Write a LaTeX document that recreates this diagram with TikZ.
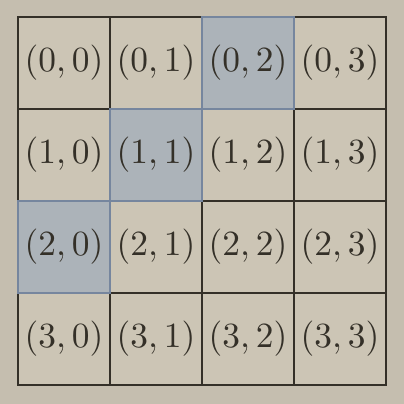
\documentclass[tikz,border=0pt]{standalone}
\definecolor{SandPaper}{RGB}{197,190,175}
\definecolor{CellPaper}{RGB}{204,197,181}
\definecolor{SlateFill}{RGB}{172,179,185}
\definecolor{SlateEdge}{RGB}{118,134,158}
\definecolor{InkDark}{RGB}{52,48,40}
\colorlet{ColourBg}{SandPaper}
\colorlet{ColourCell}{CellPaper}
\colorlet{ColourHl}{SlateFill}
\colorlet{ColourDark}{InkDark}

\begin{document}
\begin{tikzpicture}[
    cell/.style={draw=ColourDark,line width=.8pt,minimum size=1cm,inner sep=0pt,
      outer sep=0pt,text=ColourDark,font=\fontsize{10.9}{13}\selectfont}
  ]

  \fill[ColourBg] (-0.196cm,0.185cm) rectangle (4.196cm,-4.206cm);

  \foreach \i in {0,...,3}
    \foreach \j in {0,...,3} {
      \pgfmathtruncatemacro\d{\i+\j}
      \ifnum\d=2 \def\cellfill{ColourHl}\else\def\cellfill{ColourCell}\fi
      \node[cell,fill=\cellfill] (c\i\j) at (\j cm+.5cm,-\i cm-.5cm) {$(\i,\j)$};
    }

  % anti-diagonal gets its own edge colour
  \foreach \i/\j in {0/2,1/1,2/0}
    \draw[SlateEdge,line width=.8pt] (c\i\j.north west) rectangle (c\i\j.south east);

\end{tikzpicture}
\end{document}
